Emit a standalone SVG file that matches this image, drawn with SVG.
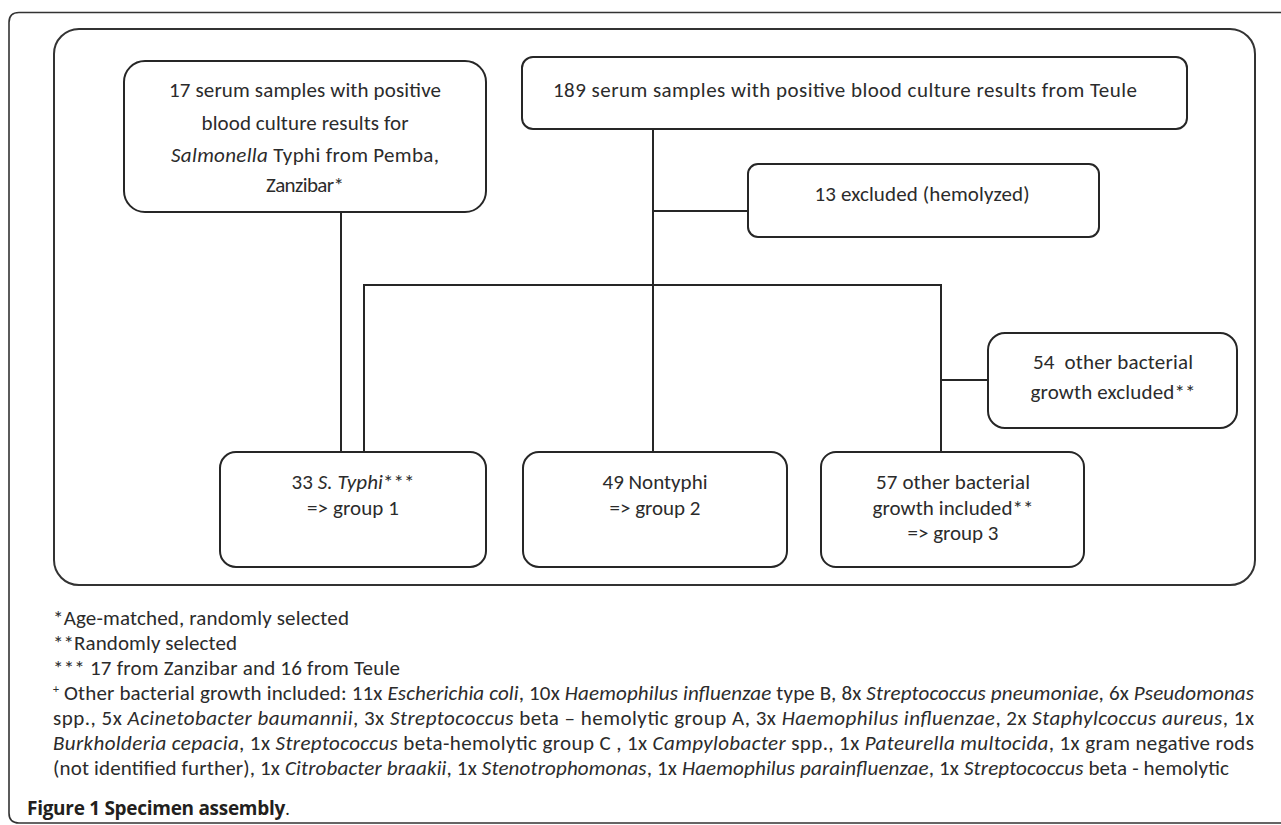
<svg xmlns="http://www.w3.org/2000/svg" width="1281" height="825" viewBox="0 0 1281 825">
<style>
.frame{fill:none;stroke:#333;stroke-width:1.6}
.box{fill:#fff;stroke:#262626;stroke-width:2}
.con{fill:none;stroke:#262626;stroke-width:2}
text{font-family:Carlito,Lato,"Open Sans",sans-serif;font-size:21px;fill:#2b2b2b}
.c{text-anchor:middle}
.i{font-style:italic}
.cap{font-family:"Open Sans",Lato,sans-serif;font-size:19px;font-weight:bold;fill:#231f20}
</style>
<rect width="1281" height="825" fill="#fff"/>
<path class="frame" d="M1281,12.5 H19 Q9,12.5 9,22.5 V813 Q9,823 19,823 H1281"/>
<rect class="frame" x="54" y="29" width="1201" height="556" rx="25" ry="25" style="stroke-width:2"/>

<g id="connectors">
<path class="con" d="M341,212 V452"/>
<path class="con" d="M653,129 V452"/>
<path class="con" d="M653,211 H748"/>
<path class="con" d="M364,452 V285 H941 V452"/>
<path class="con" d="M941,380 H988"/>
</g>

<g id="node-pemba">
<rect class="box" x="124" y="61" width="362" height="151" rx="21" ry="21"/>
<text class="c" x="305" y="97" textLength="272" lengthAdjust="spacing">17 serum samples with positive</text>
<text class="c" x="305" y="130" textLength="207" lengthAdjust="spacing">blood culture results for</text>
<text class="c" x="305" y="162" textLength="268" lengthAdjust="spacing"><tspan class="i">Salmonella</tspan> Typhi from Pemba,</text>
<text class="c" x="305" y="192" textLength="78" lengthAdjust="spacing">Zanzibar*</text>
</g>

<g id="node-teule">
<rect class="box" x="522" y="57" width="665" height="72" rx="11" ry="11"/>
<text class="c" x="845" y="97" textLength="584" lengthAdjust="spacing">189 serum samples with positive blood culture results from Teule</text>
</g>

<g id="node-excluded13">
<rect class="box" x="748" y="164" width="351" height="73" rx="10" ry="10"/>
<text class="c" x="922" y="201" textLength="215" lengthAdjust="spacing">13 excluded (hemolyzed)</text>
</g>

<g id="node-excluded54">
<rect class="box" x="988" y="333" width="249" height="95" rx="17" ry="17"/>
<text class="c" x="1113" y="369" textLength="160" lengthAdjust="spacing">54&#160; other bacterial</text>
<text class="c" x="1113" y="399" textLength="165" lengthAdjust="spacing">growth excluded**</text>
</g>

<g id="node-group1">
<rect class="box" x="220" y="452" width="266" height="115" rx="16" ry="16"/>
<text class="c" x="353" y="489" textLength="123" lengthAdjust="spacing">33 <tspan class="i">S. Typhi</tspan>***</text>
<text class="c" x="353" y="515" textLength="92" lengthAdjust="spacing">=&gt; group 1</text>
</g>

<g id="node-group2">
<rect class="box" x="523" y="452" width="264" height="115" rx="16" ry="16"/>
<text class="c" x="655" y="489" textLength="105" lengthAdjust="spacing">49 Nontyphi</text>
<text class="c" x="655" y="515" textLength="91" lengthAdjust="spacing">=&gt; group 2</text>
</g>

<g id="node-group3">
<rect class="box" x="821" y="452" width="263" height="115" rx="15" ry="15"/>
<text class="c" x="953" y="489" textLength="154" lengthAdjust="spacing">57 other bacterial</text>
<text class="c" x="953" y="515" textLength="161" lengthAdjust="spacing">growth included**</text>
<text class="c" x="953" y="540" textLength="91" lengthAdjust="spacing">=&gt; group 3</text>
</g>

<g id="footnotes">
<text x="53" y="625" textLength="296" lengthAdjust="spacing">*Age-matched, randomly selected</text>
<text x="53" y="650" textLength="184" lengthAdjust="spacing">**Randomly selected</text>
<text x="53" y="675" textLength="347" lengthAdjust="spacing">*** 17 from Zanzibar and 16 from Teule</text>
<text x="53" y="700" textLength="1201" lengthAdjust="spacing"><tspan font-size="12" dy="-7">+</tspan><tspan dy="7"> Other bacterial growth included: 11x </tspan><tspan class="i">Escherichia coli</tspan>, 10x <tspan class="i">Haemophilus influenzae</tspan> type B, 8x <tspan class="i">Streptococcus pneumoniae</tspan>, 6x <tspan class="i">Pseudomonas</tspan></text>
<text x="53" y="725" textLength="1201" lengthAdjust="spacing">spp., 5x <tspan class="i">Acinetobacter baumannii</tspan>, 3x <tspan class="i">Streptococcus</tspan> beta – hemolytic group A, 3x <tspan class="i">Haemophilus influenzae</tspan>, 2x <tspan class="i">Staphylcoccus aureus</tspan>, 1x</text>
<text x="53" y="750" textLength="1201" lengthAdjust="spacing"><tspan class="i">Burkholderia cepacia</tspan>, 1x <tspan class="i">Streptococcus</tspan> beta-hemolytic group C , 1x <tspan class="i">Campylobacter</tspan> spp., 1x <tspan class="i">Pateurella multocida</tspan>, 1x gram negative rods</text>
<text x="53" y="775" textLength="1176" lengthAdjust="spacing">(not identified further), 1x <tspan class="i">Citrobacter braakii</tspan>, 1x <tspan class="i">Stenotrophomonas</tspan>, 1x <tspan class="i">Haemophilus parainfluenzae</tspan>, 1x <tspan class="i">Streptococcus</tspan> beta - hemolytic</text>
</g>

<g id="caption">
<text class="cap" x="27" y="815" textLength="263" lengthAdjust="spacing">Figure 1 Specimen assembly<tspan style="font-weight:normal">.</tspan></text>
</g>
</svg>
